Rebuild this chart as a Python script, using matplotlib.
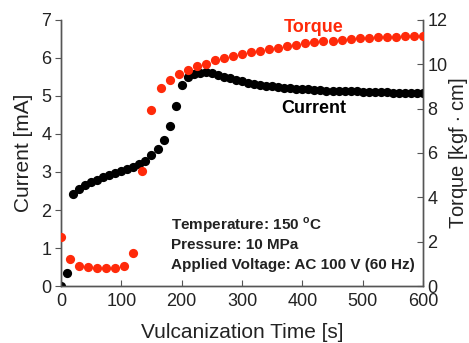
import matplotlib
matplotlib.use("Agg")
import matplotlib.pyplot as plt
import numpy as np

plt.rcParams["font.family"] = ["Liberation Sans", "DejaVu Sans"]
plt.rcParams["mathtext.fontset"] = "custom"
plt.rcParams["mathtext.rm"] = "Liberation Sans"
plt.rcParams["mathtext.bf"] = "Liberation Sans:bold"

# current logged every 10 s, torque every 15 s
t_current = np.arange(0, 601, 10)
current = [
    0.00, 0.35, 2.42, 2.55, 2.65, 2.73, 2.80, 2.86, 2.92, 2.97,
    3.02, 3.07, 3.13, 3.20, 3.30, 3.44, 3.60, 3.85, 4.22, 4.74,
    5.28, 5.50, 5.58, 5.61, 5.62, 5.60, 5.56, 5.51, 5.46, 5.42,
    5.38, 5.35, 5.32, 5.29, 5.27, 5.25, 5.23, 5.21, 5.20, 5.19,
    5.18, 5.17, 5.16, 5.15, 5.14, 5.14, 5.13, 5.13, 5.12, 5.12,
    5.11, 5.11, 5.10, 5.10, 5.10, 5.09, 5.09, 5.09, 5.08, 5.08,
    5.08,
]
t_torque = np.arange(0, 601, 15)
torque = [
    2.19, 1.20, 0.89, 0.86, 0.82, 0.82, 0.82, 0.89, 1.51, 5.18,
    7.95, 8.93, 9.27, 9.57, 9.75, 9.94, 10.03, 10.17, 10.27, 10.39,
    10.46, 10.53, 10.60, 10.68, 10.75, 10.82, 10.89, 10.94, 10.99, 11.04,
    11.07, 11.11, 11.14, 11.18, 11.19, 11.21, 11.23, 11.25, 11.26, 11.28,
    11.28,
]
conditions = ["Temperature: 150 $^{\\mathbf{o}}$C",
              "Pressure: 10 MPa",
              "Applied Voltage: AC 100 V (60 Hz)"]

RED = "#ff2a0a"
INK = "#222222"
SPINE = "#555555"

fig = plt.figure(figsize=(4.69, 3.43), dpi=100)
ax = fig.add_axes([0.130, 0.166, 0.772, 0.776])
ax2 = ax.twinx()

ax.scatter(t_current, current, s=44, color="black", linewidths=0, zorder=3)
ax2.scatter(t_torque, torque, s=44, color=RED, linewidths=0, zorder=3)

ax.set_xlim(0, 600)
ax.set_ylim(0, 7)
ax2.set_ylim(0, 12)
ax.set_xticks(range(0, 601, 100))
ax.set_yticks(range(0, 8))
ax2.set_yticks(range(0, 13, 2))

for a in (ax, ax2):
    a.spines["top"].set_visible(False)
    for s in a.spines.values():
        s.set_color(SPINE)
        s.set_linewidth(1.0)
ax.tick_params(axis="y", direction="out", length=4, color=SPINE,
               labelsize=13, labelcolor=INK, pad=3)
ax.tick_params(axis="x", direction="in", length=4, color=SPINE,
               labelsize=13, labelcolor=INK, pad=5)
ax2.tick_params(axis="y", direction="in", length=4, color=SPINE,
                labelsize=13, labelcolor=INK, pad=3)

ax.set_xlabel("Vulcanization Time [s]", fontsize=15, color=INK, labelpad=9)
ax.set_ylabel("Current [mA]", fontsize=15, color=INK, labelpad=6)
ax2.set_ylabel("Torque [kgf $\\cdot$ cm]", fontsize=14.5, color=INK, labelpad=0)

# series labels sit above both scatter layers
ax2.text(419, 6.8, "Torque", color=RED, fontsize=13, fontweight="bold",
         ha="center", va="center", transform=ax.transData)
ax2.text(419, 4.67, "Current", color="black", fontsize=13, fontweight="bold",
         ha="center", va="center", transform=ax.transData)

for i, line in enumerate(conditions):
    ax2.text(182, 1.6 - i * 0.52, line, fontsize=11, fontweight="bold",
             color=INK, ha="left", va="center", transform=ax.transData)

fig.savefig("out.png", dpi=100)
